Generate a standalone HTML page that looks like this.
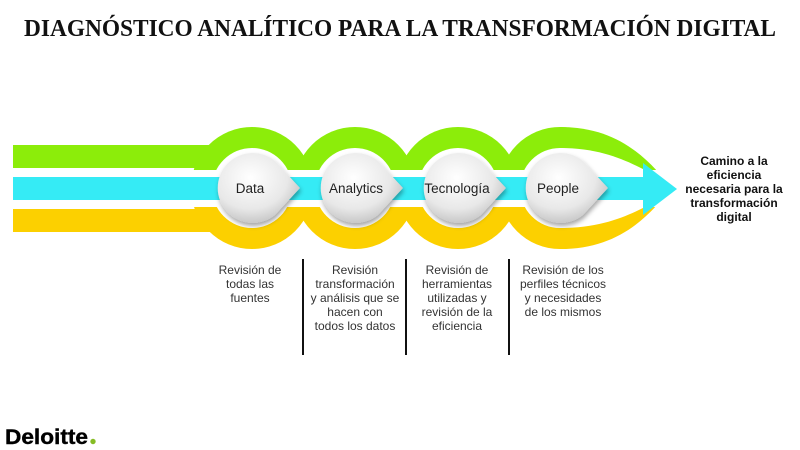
<!DOCTYPE html>
<html><head><meta charset="utf-8"><style>
html,body{margin:0;padding:0;background:#fff;width:800px;height:450px;overflow:hidden}
svg{display:block}
</style></head><body>
<svg width="800" height="450" viewBox="0 0 800 450" xmlns="http://www.w3.org/2000/svg">
<defs>
<clipPath id="top"><rect x="0" y="0" width="800" height="170"/></clipPath>
<clipPath id="bot"><rect x="0" y="207" width="800" height="243"/></clipPath>
<radialGradient id="ng" cx="0.4" cy="0.35" r="0.75">
<stop offset="0" stop-color="#ffffff"/><stop offset="0.6" stop-color="#e8e8e8"/><stop offset="1" stop-color="#b8b8b8"/>
</radialGradient>
<filter id="sh" x="-30%" y="-30%" width="160%" height="160%"><feDropShadow dx="1" dy="3" stdDeviation="2.5" flood-color="#000" flood-opacity="0.35"/></filter>
</defs>
<text x="400" y="36" text-anchor="middle" font-family="Liberation Serif, serif" font-weight="bold" font-size="24" textLength="752" lengthAdjust="spacingAndGlyphs" fill="#111">DIAGNÓSTICO ANALÍTICO PARA LA TRANSFORMACIÓN DIGITAL</text>

<g clip-path="url(#top)" fill="#8ced0a">
<rect x="13" y="145" width="240" height="23"/>
<circle cx="252" cy="188" r="61"/><circle cx="355" cy="188" r="61"/><circle cx="458" cy="188" r="61"/><circle cx="560" cy="188" r="61"/>
<path d="M560,127 C610,127 640,150 665,180 L560,180 Z"/>
</g>
<g clip-path="url(#bot)" fill="#fcd000">
<rect x="13" y="209" width="240" height="23"/>
<circle cx="252" cy="188" r="61"/><circle cx="355" cy="188" r="61"/><circle cx="458" cy="188" r="61"/><circle cx="560" cy="188" r="61"/>
<path d="M560,249 C610,249 640,226 665,196 L560,196 Z"/>
</g>
<g fill="#fff">
<circle cx="252" cy="188" r="40"/><circle cx="355" cy="188" r="40"/><circle cx="458" cy="188" r="40"/><circle cx="560" cy="188" r="40"/>
<path d="M560,148 C600,148 625,160 645,170 L645,207 C625,217 600,228 560,228 Z"/>
</g>
<rect x="13" y="177" width="632" height="23" fill="#35ebf5"/>
<polygon points="643,163 677,189 643,215" fill="#35ebf5"/>

<g filter="url(#sh)" fill="url(#ng)">
<path d="M300,188 L275,215 A35,35 0 1,1 275,161 Z"/>
<path d="M403,188 L378,215 A35,35 0 1,1 378,161 Z"/>
<path d="M506,188 L481,215 A35,35 0 1,1 481,161 Z"/>
<path d="M608,188 L583,215 A35,35 0 1,1 583,161 Z"/>
</g>
<g font-family="Liberation Sans, sans-serif" font-size="13.5" fill="#222" text-anchor="middle">
<text x="250" y="193">Data</text>
<text x="356" y="193">Analytics</text>
<text x="457" y="193">Tecnología</text>
<text x="558" y="193">People</text>
</g>
<g font-family="Liberation Sans, sans-serif" font-size="12" font-weight="bold" fill="#111" text-anchor="middle">
<text x="734" y="165">Camino a la</text>
<text x="734" y="179">eficiencia</text>
<text x="734" y="193">necesaria para la</text>
<text x="734" y="207">transformación</text>
<text x="734" y="221">digital</text>
</g>
<g stroke="#111" stroke-width="2">
<line x1="303" y1="259" x2="303" y2="355"/>
<line x1="406" y1="259" x2="406" y2="355"/>
<line x1="509" y1="259" x2="509" y2="355"/>
</g>
<g font-family="Liberation Sans, sans-serif" font-size="12" fill="#333" text-anchor="middle">
<text x="250" y="274">Revisión de</text><text x="250" y="288">todas las</text><text x="250" y="302">fuentes</text>
<text x="355" y="274">Revisión</text><text x="355" y="288">transformación</text><text x="355" y="302">y análisis que se</text><text x="355" y="316">hacen con</text><text x="355" y="330">todos los datos</text>
<text x="457" y="274">Revisión de</text><text x="457" y="288">herramientas</text><text x="457" y="302">utilizadas y</text><text x="457" y="316">revisión de la</text><text x="457" y="330">eficiencia</text>
<text x="563" y="274">Revisión de los</text><text x="563" y="288">perfiles técnicos</text><text x="563" y="302">y necesidades</text><text x="563" y="316">de los mismos</text>
</g>
<text x="5" y="444" font-family="Liberation Sans, sans-serif" font-weight="bold" font-size="21" textLength="83" lengthAdjust="spacingAndGlyphs" fill="#000" stroke="#000" stroke-width="0.4">Deloitte</text>
<circle cx="93" cy="441.5" r="2.7" fill="#86bc25"/>
</svg>
</body></html>
